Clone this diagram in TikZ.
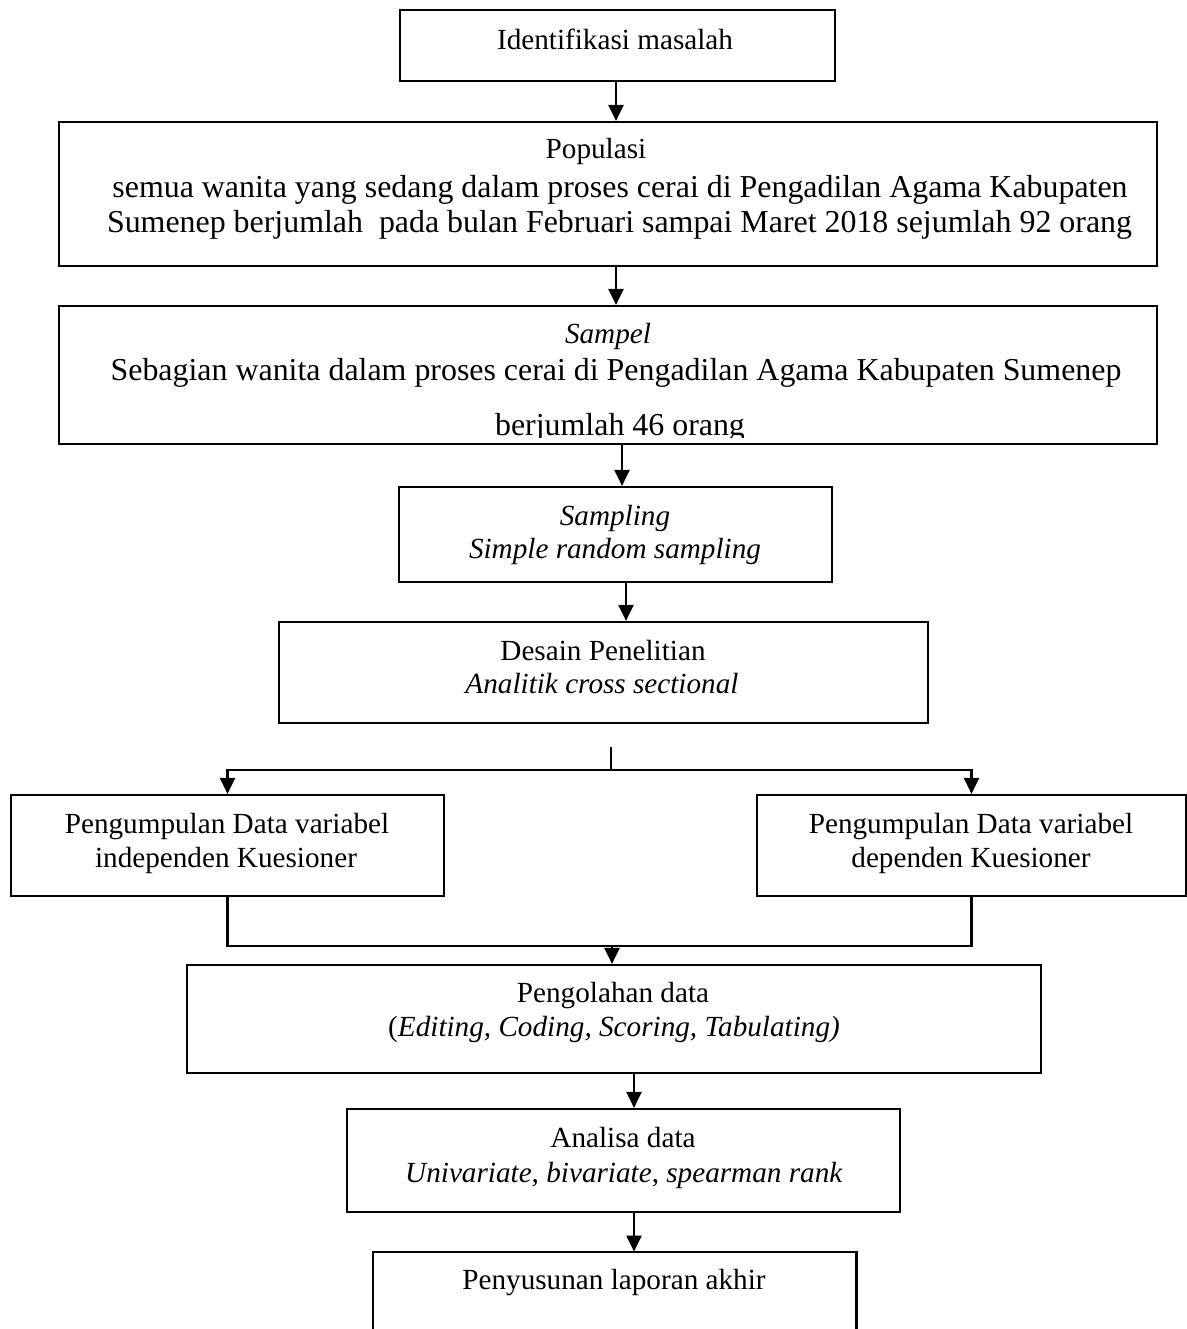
\documentclass[tikz,border=0pt]{standalone}
\usepackage{fontspec}
\setmainfont{Liberation Serif}
\usetikzlibrary{arrows.meta}
\begin{document}
\begin{tikzpicture}[x=0.5pt,y=-0.5pt,
  box/.style={draw=black, line width=1.1pt, inner sep=0pt, rectangle},
  ghost/.style={draw=none, inner sep=0pt, rectangle},
  txt/.style={anchor=base, inner sep=0pt, font=\fontsize{14.6pt}{17.5pt}\selectfont},
  txtbig/.style={anchor=base, inner sep=0pt, font=\fontsize{15.95pt}{19pt}\selectfont},
  conn/.style={line width=1.1pt},
  arr/.style={line width=1.1pt, -{Triangle[length=8pt,width=7.5pt]}}]
\useasboundingbox (0,0) rectangle (1187,1329);

% boxes
\node[box, minimum width=217.5pt, minimum height=35.5pt] (b1) at (617.5,45.5) {};
\node[box, minimum width=549pt, minimum height=72pt] (b2) at (608,194) {};
\node[box, minimum width=549pt, minimum height=69pt] (b3) at (608,375) {};
\node[box, minimum width=216.5pt, minimum height=47.5pt] (b4) at (615.5,534.5) {};
\node[box, minimum width=324.5pt, minimum height=50.5pt] (b5) at (603.5,672.5) {};
\node[box, minimum width=216.5pt, minimum height=50.5pt] (b6l) at (227.5,845.5) {};
\node[box, minimum width=214.5pt, minimum height=50.5pt] (b6r) at (971.5,845.5) {};
\node[box, minimum width=427pt, minimum height=54pt] (b7) at (614,1019) {};
\node[box, minimum width=276.5pt, minimum height=51.5pt] (b8) at (623.5,1160.5) {};
\node[ghost, minimum width=241.5pt, minimum height=40pt] (b9) at (614.5,1292) {};
\draw[conn] (b9.south west) -- (b9.north west) -- (b9.north east) -- (b9.south east);

% texts
\node[txt] (t1) at (615,49) {Identifikasi masalah};
\node[txt] (t2a) at (596,158) {Populasi};
\node[txtbig] (t2b) at (620,197) {semua wanita yang sedang dalam proses cerai di Pengadilan Agama Kabupaten};
\node[txtbig] (t2c) at (619.5,232) {Sumenep berjumlah \ pada bulan Februari sampai Maret 2018 sejumlah 92 orang};
\node[txt] (t3a) at (608,343) {\textit{Sampel}};
\node[txtbig] (t3b) at (616,380) {Sebagian wanita dalam proses cerai di Pengadilan Agama Kabupaten Sumenep};
\begin{scope}
\clip (0,400) rectangle (1187,437);
\node[txtbig] (t3c) at (620,435) {berjumlah 46 orang};
\end{scope}
\node[txt] (t4a) at (615,525) {\textit{Sampling}};
\node[txt] (t4b) at (615,558) {\textit{Simple random sampling}};
\node[txt] (t5a) at (603,660) {Desain Penelitian};
\node[txt] (t5b) at (602,693) {\textit{Analitik cross sectional}};
\node[txt] (t6a) at (227,833) {Pengumpulan Data variabel};
\node[txt] (t6b) at (226,867) {independen Kuesioner};
\node[txt] (t6c) at (971,833) {Pengumpulan Data variabel};
\node[txt] (t6d) at (971,867) {dependen Kuesioner};
\node[txt] (t7a) at (613,1002) {Pengolahan data};
\node[txt] (t7b) at (614,1036) {(\textit{Editing, Coding, Scoring, Tabulating)}};
\node[txt] (t8a) at (623,1147) {Analisa data};
\node[txt] (t8b) at (624,1182) {\textit{Univariate, bivariate}, \textit{spearman rank}};
\node[txt] (t9) at (614,1289) {Penyusunan laporan akhir};

% connectors
\draw[arr] (616,0 |- b1.south) -- (616,0 |- b2.north);
\draw[arr] (616,0 |- b2.south) -- (616,0 |- b3.north);
\draw[arr] (622,0 |- b3.south) -- (622,0 |- b4.north);
\draw[arr] (626,0 |- b4.south) -- (626,0 |- b5.north);
\coordinate (stub) at (611,747);
\coordinate (split) at (611,770);
\draw[conn] (stub) -- (split);
\draw[arr] (split) -| (b6l.north);
\draw[arr] (split) -| (b6r.north);
\coordinate (merge) at (612,946);
\draw[conn] (b6l.south) |- (merge);
\draw[conn] (b6r.south) |- (merge);
\draw[arr] (merge) -- (612,0 |- b7.north);
\draw[arr] (634,0 |- b7.south) -- (634,0 |- b8.north);
\draw[arr] (634,0 |- b8.south) -- (634,0 |- b9.north);
\end{tikzpicture}
\end{document}
